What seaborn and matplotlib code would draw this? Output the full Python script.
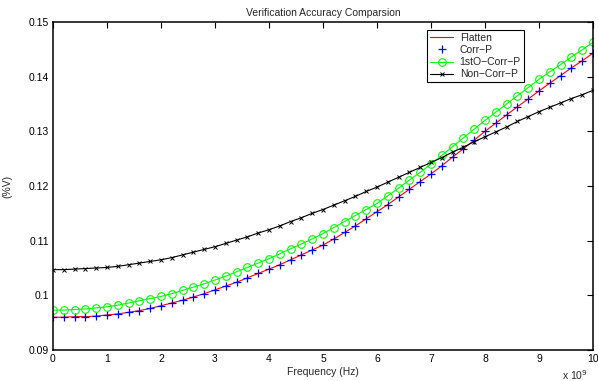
import numpy as np
import pandas as pd
import matplotlib
matplotlib.use("Agg")
import matplotlib.pyplot as plt
import seaborn as sns

# frequency in units of 1e9 Hz, 0.2 step
freq = np.linspace(0, 10, 51)

corr_p = [0.0960, 0.0960, 0.0961, 0.0961, 0.0962, 0.0964,
          0.0966, 0.0969, 0.0972, 0.0976, 0.0981,
          0.0986, 0.0991, 0.0997, 0.1003, 0.1010,
          0.1017, 0.1024, 0.1032, 0.1040, 0.1048,
          0.1056, 0.1065, 0.1074, 0.1083, 0.1092,
          0.1103, 0.1115, 0.1127, 0.1140, 0.1153,
          0.1166, 0.1180, 0.1194, 0.1208, 0.1222,
          0.1237, 0.1253, 0.1268, 0.1284, 0.1300,
          0.1315, 0.1330, 0.1345, 0.1359, 0.1374,
          0.1388, 0.1402, 0.1416, 0.1429, 0.1443]

# Flatten lies on top of Corr-P
flatten = list(corr_p)

first_order = [0.0973, 0.0973, 0.0974, 0.0975, 0.0977, 0.0979,
               0.0982, 0.0986, 0.0990, 0.0994, 0.0998,
               0.1003, 0.1009, 0.1015, 0.1021, 0.1028,
               0.1035, 0.1043, 0.1051, 0.1059, 0.1067,
               0.1076, 0.1085, 0.1094, 0.1103, 0.1113,
               0.1124, 0.1135, 0.1146, 0.1157, 0.1168,
               0.1182, 0.1196, 0.1211, 0.1225, 0.1240,
               0.1256, 0.1272, 0.1288, 0.1304, 0.1320,
               0.1335, 0.1350, 0.1365, 0.1380, 0.1395,
               0.1409, 0.1422, 0.1436, 0.1449, 0.1463]

non_corr = [0.1047, 0.1047, 0.1048, 0.1049, 0.1050, 0.1051,
            0.1053, 0.1056, 0.1059, 0.1062, 0.1065,
            0.1069, 0.1074, 0.1079, 0.1084, 0.1089,
            0.1095, 0.1101, 0.1107, 0.1114, 0.1120,
            0.1127, 0.1135, 0.1142, 0.1150, 0.1157,
            0.1165, 0.1173, 0.1181, 0.1190, 0.1198,
            0.1207, 0.1216, 0.1225, 0.1234, 0.1243,
            0.1252, 0.1262, 0.1271, 0.1281, 0.1290,
            0.1299, 0.1308, 0.1318, 0.1327, 0.1336,
            0.1344, 0.1352, 0.1360, 0.1367, 0.1375]

x_ticks = list(range(0, 11))
y_ticks = [0.09, 0.10, 0.11, 0.12, 0.13, 0.14, 0.15]
y_tick_labels = ["0.09", "0.1", "0.11", "0.12", "0.13", "0.14", "0.15"]

sns.set_style("white")
plt.rcParams["font.family"] = ["Liberation Sans", "DejaVu Sans"]
plt.rcParams["font.size"] = 7.5

df = pd.DataFrame({"freq": freq, "Flatten": flatten, "Corr-P": corr_p,
                   "1stO-Corr-P": first_order, "Non-Corr-P": non_corr})

fig = plt.figure(figsize=(5.98, 3.81), dpi=100)
ax = fig.add_axes([53 / 598, 1 - 350 / 381, 540 / 598, 328 / 381])

sns.lineplot(data=df, x="freq", y="Flatten", ax=ax, color="red", lw=0.8,
             label="Flatten")
sns.lineplot(data=df, x="freq", y="Corr-P", ax=ax, color="blue", linestyle="none",
             marker="+", markersize=5.5, markeredgecolor="blue",
             markeredgewidth=0.9, label="Corr\u2212P")
sns.lineplot(data=df, x="freq", y="1stO-Corr-P", ax=ax, color="#00ff00", lw=0.8,
             marker="o", markersize=5.5, markerfacecolor="none",
             markeredgecolor="#00ff00", markeredgewidth=0.8,
             label="1stO\u2212Corr\u2212P")
sns.lineplot(data=df, x="freq", y="Non-Corr-P", ax=ax, color="black", lw=0.8,
             marker="x", markersize=3.5, markeredgecolor="black",
             markeredgewidth=0.7, label="Non\u2212Corr\u2212P")

ax.set_xlim(0, 10)
ax.set_ylim(0.09, 0.15)
ax.set_xticks(x_ticks)
ax.set_xticklabels([str(t) for t in x_ticks])
ax.set_yticks(y_ticks)
ax.set_yticklabels(y_tick_labels)
ax.tick_params(direction="in", length=4, width=0.8, top=True, right=True,
               labelsize=7.5, pad=3, colors="black")
for s in ax.spines.values():
    s.set_color("black")
    s.set_linewidth(1.1)

ax.set_title("Verification Accuracy Comparsion", fontsize=7.5, pad=4)
ax.set_xlabel("Frequency (Hz)", fontsize=7.5, labelpad=2)
ax.set_ylabel("(%V)", fontsize=7.5)
ax.yaxis.set_label_coords(-0.076, 0.5)
fig.text(575 / 598, 1 - 375 / 381, "x 10$^9$", fontsize=7.5, ha="center", va="center")

leg = ax.legend(loc="upper right", bbox_to_anchor=(0.872, 0.976), frameon=True,
                fancybox=False, framealpha=1, edgecolor="black", fontsize=7.5,
                handlelength=2.2, handletextpad=0.6, borderpad=0.3,
                labelspacing=0.2, borderaxespad=0)
leg.get_frame().set_linewidth(0.8)

fig.savefig("out.png", dpi=100, facecolor="white")
